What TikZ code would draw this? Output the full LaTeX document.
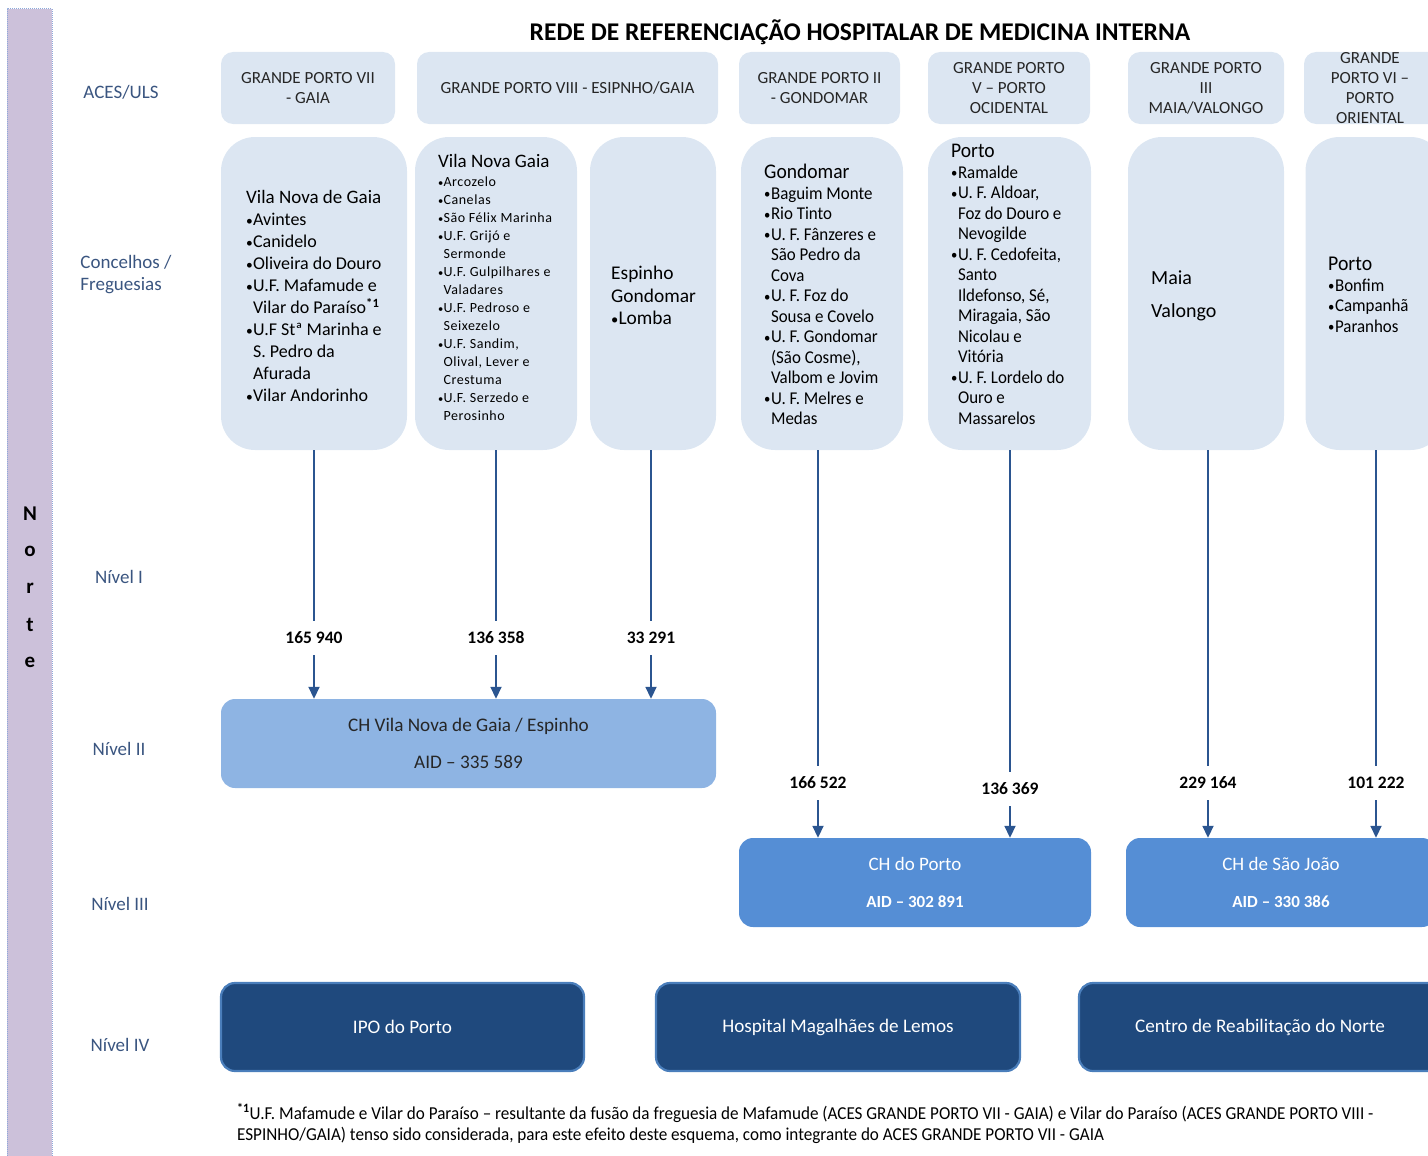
\documentclass[tikz,border=0pt]{standalone}
\usepackage{fontspec}
\usepackage{graphicx}
\setmainfont{Carlito}
\newfontfamily\condA[FakeStretch=0.94]{Carlito}
\newfontfamily\spacedA[LetterSpace=4]{Carlito}
\usetikzlibrary{arrows.meta}
\definecolor{boxfill}{HTML}{DCE6F2}
\definecolor{lvtwo}{HTML}{8EB4E3}
\definecolor{lvthree}{HTML}{558ED5}
\definecolor{lvfour}{HTML}{1F497D}
\definecolor{lvfourb}{HTML}{4A7EBB}
\definecolor{rowlab}{HTML}{3A5580}
\definecolor{barfill}{HTML}{CCC1DA}
\definecolor{barline}{HTML}{8EA9DB}
\definecolor{conncol}{HTML}{2B5590}
\definecolor{hdrtext}{HTML}{262626}
\newcommand\fs[2]{\fontsize{#1}{#2}\selectfont}
\newcommand\bul{\makebox[0.38em][l]{\raisebox{0.02em}{\scalebox{0.75}{•}}}}
\newcommand\ind{\phantom{\bul}}
\newcommand\fnmark{\textsuperscript{\textbf{*1}}}
\begin{document}
\begin{tikzpicture}[x=1pt,y=-1pt,
  hdr/.style={fill=boxfill,rounded corners=12pt,inner sep=0pt,minimum height=72pt},
  hdrtxt/.style={inner sep=0pt,align=center,text=hdrtext,font=\fs{17}{20}},
  cbox/.style={fill=boxfill,rounded corners=34pt,inner sep=0pt,minimum height=313pt},
  ctxt/.style={inner sep=0pt,align=left,anchor=north west,text=black},
  rowlabel/.style={inner sep=0pt,align=left,text=rowlab,font=\fs{19}{22}},
  num/.style={inner sep=0pt,minimum height=34pt,font=\bfseries\fs{17.5}{18},text=black},
  conn/.style={draw=conncol,line width=1.8pt},
  arr/.style={conn,-{Triangle[width=11pt,length=12pt]}},
  lvl2/.style={fill=lvtwo,rounded corners=14pt,inner sep=0pt,minimum height=89pt,align=center,font=\fs{19.2}{37},text=black!85},
  lvl3/.style={fill=lvthree,rounded corners=14pt,inner sep=0pt,minimum height=89pt,align=center,font=\fs{19}{37},text=white},
  lvl4/.style={fill=lvfour,draw=lvfourb,line width=2.2pt,rounded corners=14pt,inner sep=0pt,minimum height=88pt,font=\fs{19.2}{22},text=white},
  norte/.style={inner sep=0pt,font=\bfseries\fs{21}{24},text=black}
]
\useasboundingbox (0,0) rectangle (1428,1156);
\clip (0,0) rectangle (1428,1156);

% left bar
\fill[barfill] (7,9) rectangle (52,1170);
\draw[barline,densely dotted,line width=1pt] (7,1170) -- (7,9) -- (52,9) -- (52,1170);
\foreach \ch/\yy/\nm in {N/514/nA,o/551/nB,r/588/nC,t/625/nD,e/662/nE}
  \node[norte] (\nm) at (30,\yy) {\ch};

% title
\node[inner sep=0pt,font=\bfseries\fs{25.5}{28},text=black] (title) at (860,32) {REDE DE REFERENCIAÇÃO HOSPITALAR DE MEDICINA INTERNA};

% row labels
\node[rowlabel] (rACES) at (121,92) {ACES/ULS};
\node[rowlabel] (rConc) at (126,275) {Concelhos /\\Freguesias};
\node[rowlabel] (rN1) at (119,577) {Nível I};
\node[rowlabel] (rN2) at (119,749) {Nível II};
\node[rowlabel] (rN3) at (120,904) {Nível III};
\node[rowlabel] (rN4) at (120,1045) {Nível IV};

% header boxes
\node[hdr,minimum width=174pt] (h1) at (308,88) {};
\node[hdr,minimum width=301pt] (h2) at (567.5,88) {};
\node[hdr,minimum width=161pt] (h3) at (819.5,88) {};
\node[hdr,minimum width=162pt] (h4) at (1009,88) {};
\node[hdr,minimum width=156pt] (h5) at (1206,88) {};
\node[hdr,minimum width=136pt] (h6) at (1372,88) {};
\node[hdrtxt] (ht1) at (h1) {GRANDE PORTO VII\\- GAIA};
\node[hdrtxt] (ht2) at (h2) {GRANDE PORTO VIII - ESIPNHO/GAIA};
\node[hdrtxt] (ht3) at (h3) {GRANDE PORTO II\\- GONDOMAR};
\node[hdrtxt] (ht4) at (h4) {GRANDE PORTO\\V – PORTO\\OCIDENTAL};
\node[hdrtxt] (ht5) at (h5) {GRANDE PORTO\\III\\MAIA/VALONGO};
\node[hdrtxt] (ht6) at (1370,88) {GRANDE\\PORTO VI –\\PORTO\\ORIENTAL};

% content boxes
\node[cbox,minimum width=186pt] (c1) at (314,293.5) {};
\node[cbox,minimum width=162pt] (c2) at (496,293.5) {};
\node[cbox,minimum width=126pt] (c3) at (653,293.5) {};
\node[cbox,minimum width=162pt] (c4) at (822,293.5) {};
\node[cbox,minimum width=163pt] (c5) at (1009.5,293.5) {};
\node[cbox,minimum width=156pt] (c6) at (1206,293.5) {};
\node[cbox,minimum width=139pt] (c7) at (1375,293.5) {};

\node[ctxt,font=\fs{18}{22}] (t1) at (246,190) {{\fs{19}{22}Vila Nova de Gaia}\\
\bul Avintes\\\bul Canidelo\\\bul Oliveira do Douro\\\bul U.F. Mafamude e\\\ind Vilar do Paraíso\fnmark\\
\bul U.F Stª Marinha e\\\ind S. Pedro da\\\ind Afurada\\\bul Vilar Andorinho};

\node[ctxt,font=\spacedA\fs{14}{18}] (t2) at (438,154) {{\rmfamily\fs{19}{18}Vila Nova Gaia}\\[1pt]
\bul Arcozelo\\\bul Canelas\\\bul São Félix Marinha\\\bul U.F. Grijó e\\\ind Sermonde\\\bul U.F. Gulpilhares e\\\ind Valadares\\
\bul U.F. Pedroso e\\\ind Seixezelo\\\bul U.F. Sandim,\\\ind Olival, Lever e\\\ind Crestuma\\\bul U.F. Serzedo e\\\ind Perosinho};

\node[ctxt,font=\fs{19.4}{22.5}] (t3) at (611,266) {Espinho\\Gondomar\\\bul Lomba};

\node[ctxt,font=\condA\fs{18}{20.5}] (t4) at (764,164) {{\fs{20.8}{20.5}Gondomar}\\
\bul Baguim Monte\\\bul Rio Tinto\\\bul U. F. Fânzeres e\\\ind São Pedro da\\\ind Cova\\\bul U. F. Foz do\\\ind Sousa e Covelo\\
\bul U. F. Gondomar\\\ind (São Cosme),\\\ind Valbom e Jovim\\\bul U. F. Melres e\\\ind Medas};

\node[ctxt,font=\condA\fs{18}{20.5}] (t5) at (951,144) {{\fs{20.8}{20.5}Porto}\\
\bul Ramalde\\\bul U. F. Aldoar,\\\ind Foz do Douro e\\\ind Nevogilde\\\bul U. F. Cedofeita,\\\ind Santo\\\ind Ildefonso, Sé,\\
\ind Miragaia, São\\\ind Nicolau e\\\ind Vitória\\\bul U. F. Lordelo do\\\ind Ouro e\\\ind Massarelos};

\node[ctxt,font=\fs{20}{33}] (t6) at (1151,271) {Maia\\Valongo};

\node[ctxt,font=\condA\fs{18}{20.5}] (t7) at (1328,257) {{\fs{21}{20.5}Porto}\\\bul Bonfim\\\bul Campanhã\\\bul Paranhos};

% level boxes
\node[lvl2,minimum width=495pt] (L2) at (468.5,743.5) {CH Vila Nova de Gaia / Espinho\\AID – 335 589};
\node[lvl3,minimum width=352pt] (L3a) at (915,882.5) {CH do Porto\\{\bfseries\fs{17}{37}AID – 302 891}};
\node[lvl3,minimum width=310pt] (L3b) at (1281,882.5) {CH de São João\\{\bfseries\fs{17}{37}AID – 330 386}};
\node[lvl4,minimum width=363pt] (L4a) at (402.5,1027) {IPO do Porto};
\node[lvl4,minimum width=364pt] (L4b) at (838,1027) {Hospital Magalhães de Lemos};
\node[lvl4,minimum width=362pt] (L4c) at (1260,1027) {Centro de Reabilitação do Norte};

% number labels
\node[num] (n1) at (314,638) {165 940};
\node[num] (n2) at (496,638) {136 358};
\node[num] (n3) at (651,638) {33 291};
\node[num] (n4) at (818,783) {166 522};
\node[num] (n5) at (1010,789) {136 369};
\node[num] (n6) at (1208,783) {229 164};
\node[num] (n7) at (1376,783) {101 222};

% connectors
\foreach \n/\c/\t in {n1/c1/L2,n2/c2/L2,n3/c3/L2,n4/c4/L3a,n5/c5/L3a,n6/c6/L3b,n7/c7/L3b}{
  \draw[conn] (\n |- \c.south) -- (\n.north);
  \draw[arr] (\n.south) -- (\n |- \t.north);
}

% footnote
\node[inner sep=0pt,anchor=base west,font=\condA\fs{18.2}{21}] (fn1) at (237,1119) {\fnmark U.F. Mafamude e Vilar do Paraíso – resultante da fusão da freguesia de Mafamude (ACES GRANDE PORTO VII - GAIA) e Vilar do Paraíso (ACES GRANDE PORTO VIII -};
\node[inner sep=0pt,anchor=base west,font=\condA\fs{18.2}{21}] (fn2) at (237,1140) {ESPINHO/GAIA) tenso sido considerada, para este efeito deste esquema, como integrante do ACES GRANDE PORTO VII - GAIA};
\end{tikzpicture}
\end{document}
